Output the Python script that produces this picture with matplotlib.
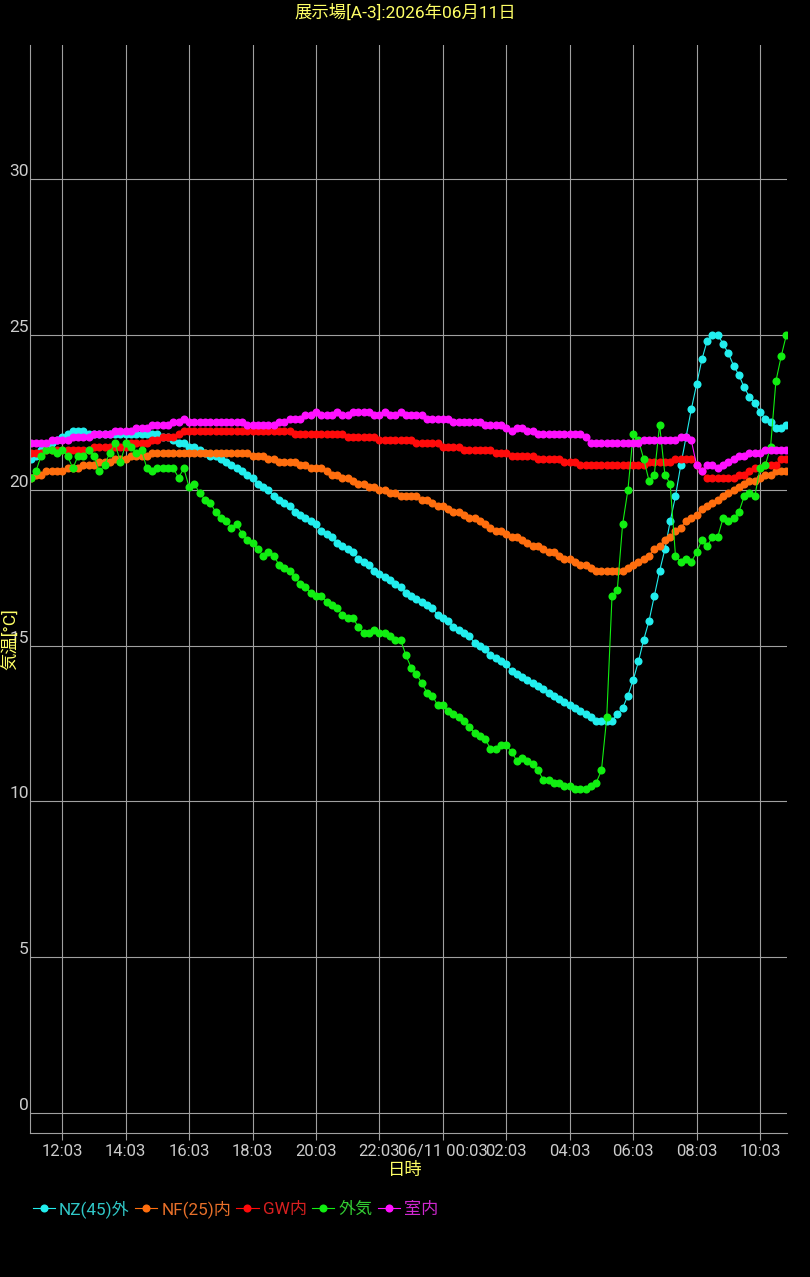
import numpy as np
import pandas as pd
import matplotlib
matplotlib.use("Agg")
import matplotlib.pyplot as plt

plt.rcParams['font.family'] = ['Roboto', 'Noto Sans CJK JP', 'DejaVu Sans']

title = "展示場[A-3]:2026年06月11日"
start = "2026-06-10 11:03"

tick_times = ["2026-06-10 12:03", "2026-06-10 14:03", "2026-06-10 16:03", "2026-06-10 18:03",
              "2026-06-10 20:03", "2026-06-10 22:03", "2026-06-11 00:03", "2026-06-11 02:03",
              "2026-06-11 04:03", "2026-06-11 06:03", "2026-06-11 08:03", "2026-06-11 10:03"]
tick_labels = ["12:03", "14:03", "16:03", "18:03", "20:03", "22:03", "06/11 00:03",
               "02:03", "04:03", "06:03", "08:03", "10:03"]
y_ticks = [0, 5, 10, 15, 20, 25, 30]

names = ["NZ(45)外", "NF(25)内", "GW内", "外気", "室内"]
colors = ["#22eeee", "#ff6e0e", "#ff0a0a", "#11ee11", "#ff11ff"]
text_colors = ["#30c8c8", "#e8702a", "#d82020", "#33cc33", "#d028d0"]

# 10分間隔
nz45 = [21.0, 21.1, 21.3, 21.4, 21.5, 21.6, 21.7, 21.8, 21.9, 21.9,
        21.9, 21.8, 21.8, 21.8, 21.8, 21.8, 21.8, 21.8, 21.8, 21.8,
        21.8, 21.8, 21.8, 21.8, 21.8, 21.7, 21.7, 21.6, 21.5, 21.5,
        21.4, 21.4, 21.3, 21.2, 21.1, 21.1, 21.0, 20.9, 20.8, 20.7,
        20.6, 20.5, 20.4, 20.2, 20.1, 20.0, 19.8, 19.7, 19.6, 19.5,
        19.3, 19.2, 19.1, 19.0, 18.9, 18.7, 18.6, 18.5, 18.3, 18.2,
        18.1, 18.0, 17.8, 17.7, 17.6, 17.4, 17.3, 17.2, 17.1, 17.0,
        16.9, 16.7, 16.6, 16.5, 16.4, 16.3, 16.2, 16.0, 15.9, 15.8,
        15.6, 15.5, 15.4, 15.3, 15.1, 15.0, 14.9, 14.7, 14.6, 14.5,
        14.4, 14.2, 14.1, 14.0, 13.9, 13.8, 13.7, 13.6, 13.5, 13.4,
        13.3, 13.2, 13.1, 13.0, 12.9, 12.8, 12.7, 12.6, 12.6, 12.6,
        12.6, 12.8, 13.0, 13.4, 13.9, 14.5, 15.2, 15.8, 16.6, 17.4,
        18.1, 19.0, 19.8, 20.8, 21.7, 22.6, 23.4, 24.2, 24.8, 25.0,
        25.0, 24.7, 24.4, 24.0, 23.7, 23.3, 23.0, 22.8, 22.5, 22.3,
        22.2, 22.0, 22.0, 22.1]

nf25 = [20.4, 20.5, 20.5, 20.6, 20.6, 20.6, 20.6, 20.7, 20.7, 20.7,
        20.8, 20.8, 20.8, 20.9, 20.9, 20.9, 21.0, 21.0, 21.0, 21.1,
        21.1, 21.1, 21.1, 21.2, 21.2, 21.2, 21.2, 21.2, 21.2, 21.2,
        21.2, 21.2, 21.2, 21.2, 21.2, 21.2, 21.2, 21.2, 21.2, 21.2,
        21.2, 21.2, 21.1, 21.1, 21.1, 21.0, 21.0, 20.9, 20.9, 20.9,
        20.9, 20.8, 20.8, 20.7, 20.7, 20.7, 20.6, 20.5, 20.5, 20.4,
        20.4, 20.3, 20.2, 20.2, 20.1, 20.1, 20.0, 20.0, 19.9, 19.9,
        19.8, 19.8, 19.8, 19.8, 19.7, 19.7, 19.6, 19.5, 19.5, 19.4,
        19.3, 19.3, 19.2, 19.1, 19.1, 19.0, 18.9, 18.8, 18.7, 18.7,
        18.6, 18.5, 18.5, 18.4, 18.3, 18.2, 18.2, 18.1, 18.0, 18.0,
        17.9, 17.8, 17.8, 17.7, 17.6, 17.6, 17.5, 17.4, 17.4, 17.4,
        17.4, 17.4, 17.4, 17.5, 17.6, 17.7, 17.8, 17.9, 18.1, 18.2,
        18.4, 18.5, 18.7, 18.8, 19.0, 19.1, 19.2, 19.4, 19.5, 19.6,
        19.7, 19.8, 19.9, 20.0, 20.1, 20.2, 20.3, 20.3, 20.4, 20.5,
        20.5, 20.6, 20.6, 20.6]

gw = [21.2, 21.2, 21.2, 21.3, 21.3, 21.3, 21.3, 21.3, 21.3, 21.3,
      21.3, 21.3, 21.4, 21.4, 21.4, 21.4, 21.4, 21.4, 21.4, 21.5,
      21.5, 21.5, 21.5, 21.6, 21.6, 21.7, 21.7, 21.7, 21.8, 21.9,
      21.9, 21.9, 21.9, 21.9, 21.9, 21.9, 21.9, 21.9, 21.9, 21.9,
      21.9, 21.9, 21.9, 21.9, 21.9, 21.9, 21.9, 21.9, 21.9, 21.9,
      21.8, 21.8, 21.8, 21.8, 21.8, 21.8, 21.8, 21.8, 21.8, 21.8,
      21.7, 21.7, 21.7, 21.7, 21.7, 21.7, 21.6, 21.6, 21.6, 21.6,
      21.6, 21.6, 21.6, 21.5, 21.5, 21.5, 21.5, 21.5, 21.4, 21.4,
      21.4, 21.4, 21.3, 21.3, 21.3, 21.3, 21.3, 21.3, 21.2, 21.2,
      21.2, 21.1, 21.1, 21.1, 21.1, 21.1, 21.0, 21.0, 21.0, 21.0,
      21.0, 20.9, 20.9, 20.9, 20.8, 20.8, 20.8, 20.8, 20.8, 20.8,
      20.8, 20.8, 20.8, 20.8, 20.8, 20.8, 20.8, 20.9, 20.9, 20.9,
      20.9, 20.9, 21.0, 21.0, 21.0, 21.0, 20.8, 20.6, 20.4, 20.4,
      20.4, 20.4, 20.4, 20.4, 20.5, 20.5, 20.6, 20.7, 20.7, 20.8,
      20.8, 20.8, 21.0, 21.0]

gaiki = [20.4, 20.6, 21.1, 21.3, 21.3, 21.2, 21.3, 21.1, 20.7, 21.1,
         21.1, 21.3, 21.1, 20.6, 20.8, 21.2, 21.5, 20.9, 21.5, 21.4,
         21.2, 21.3, 20.7, 20.6, 20.7, 20.7, 20.7, 20.7, 20.4, 20.7,
         20.1, 20.2, 19.9, 19.7, 19.6, 19.3, 19.1, 19.0, 18.8, 18.9,
         18.6, 18.4, 18.3, 18.1, 17.9, 18.0, 17.9, 17.6, 17.5, 17.4,
         17.2, 17.0, 16.9, 16.7, 16.6, 16.6, 16.4, 16.3, 16.2, 16.0,
         15.9, 15.9, 15.6, 15.4, 15.4, 15.5, 15.4, 15.4, 15.3, 15.2,
         15.2, 14.7, 14.3, 14.1, 13.8, 13.5, 13.4, 13.1, 13.1, 12.9,
         12.8, 12.7, 12.6, 12.4, 12.2, 12.1, 12.0, 11.7, 11.7, 11.8,
         11.8, 11.6, 11.3, 11.4, 11.3, 11.2, 11.0, 10.7, 10.7, 10.6,
         10.6, 10.5, 10.5, 10.4, 10.4, 10.4, 10.5, 10.6, 11.0, 12.7,
         16.6, 16.8, 18.9, 20.0, 21.8, 21.6, 21.0, 20.3, 20.5, 22.1,
         20.5, 20.2, 17.9, 17.7, 17.8, 17.7, 18.0, 18.4, 18.2, 18.5,
         18.5, 19.1, 19.0, 19.1, 19.3, 19.8, 19.9, 19.8, 20.7, 20.8,
         21.4, 23.5, 24.3, 25.0]

shitsunai = [21.5, 21.5, 21.5, 21.5, 21.6, 21.6, 21.6, 21.6, 21.7, 21.7,
             21.7, 21.7, 21.8, 21.8, 21.8, 21.8, 21.9, 21.9, 21.9, 21.9,
             22.0, 22.0, 22.0, 22.1, 22.1, 22.1, 22.1, 22.2, 22.2, 22.3,
             22.2, 22.2, 22.2, 22.2, 22.2, 22.2, 22.2, 22.2, 22.2, 22.2,
             22.2, 22.1, 22.1, 22.1, 22.1, 22.1, 22.1, 22.2, 22.2, 22.3,
             22.3, 22.3, 22.4, 22.4, 22.5, 22.4, 22.4, 22.4, 22.5, 22.4,
             22.4, 22.5, 22.5, 22.5, 22.5, 22.4, 22.4, 22.5, 22.4, 22.4,
             22.5, 22.4, 22.4, 22.4, 22.4, 22.3, 22.3, 22.3, 22.3, 22.3,
             22.2, 22.2, 22.2, 22.2, 22.2, 22.2, 22.1, 22.1, 22.1, 22.1,
             22.0, 21.9, 22.0, 22.0, 21.9, 21.9, 21.8, 21.8, 21.8, 21.8,
             21.8, 21.8, 21.8, 21.8, 21.8, 21.7, 21.5, 21.5, 21.5, 21.5,
             21.5, 21.5, 21.5, 21.5, 21.5, 21.5, 21.6, 21.6, 21.6, 21.6,
             21.6, 21.6, 21.6, 21.7, 21.7, 21.6, 20.8, 20.6, 20.8, 20.8,
             20.7, 20.8, 20.9, 21.0, 21.1, 21.1, 21.2, 21.2, 21.2, 21.3,
             21.3, 21.3, 21.3, 21.3]

series = [nz45, nf25, gw, gaiki, shitsunai]

t = pd.date_range(start, periods=len(nz45), freq="10min")

W, H = 810, 1277
fig = plt.figure(figsize=(W / 100, H / 100), dpi=100, facecolor="black")
ax = fig.add_axes([30 / W, 1 - 1133 / H, 757 / W, 1088 / H], facecolor="black")

for vals, name, c in zip(series, names, colors):
    ax.plot(t, vals, "-o", color=c, lw=0.8, ms=5.8, mew=0, label=name)

ax.set_xlim(t[0] - pd.Timedelta(minutes=1), t[-1] + pd.Timedelta(minutes=1))
ax.set_ylim(-0.65, 34.3)

ax.set_xticks(pd.to_datetime(tick_times))
ax.set_xticklabels(tick_labels)
ax.set_yticks(y_ticks)
ax.set_yticklabels([str(v) for v in y_ticks])

ax.grid(True, color="#a0a0a0", lw=0.8)
ax.set_axisbelow(True)
for s in ["top", "right"]:
    ax.spines[s].set_visible(False)
for s in ["left", "bottom"]:
    ax.spines[s].set_color("#a0a0a0")
    ax.spines[s].set_linewidth(0.8)

ax.tick_params(axis="x", colors="#a0a0a0", labelcolor="#cccccc", labelsize=12,
               length=5, width=0.8, pad=3)
ax.tick_params(axis="y", colors="#a0a0a0", labelcolor="#cccccc", labelsize=12.5,
               length=0, pad=1)
for lab in ax.get_yticklabels():
    lab.set_va("bottom")

fig.text(0.5, 1 - 12 / H, title, ha="center", va="center", color="#ffff66", fontsize=12.5)
fig.text(405 / W, 1 - 1170 / H, "日時", ha="center", va="center", color="#ffff66", fontsize=12.5)
fig.text(11 / W, 1 - 639 / H, "気温[°C]", ha="center", va="center", rotation=90,
         color="#ffff66", fontsize=12.5)

leg = fig.legend(loc="center left", bbox_to_anchor=(24 / W, 1 - 1209 / H), ncol=5,
                 frameon=False, fontsize=12.3, handlelength=1.3, handletextpad=0.25,
                 columnspacing=0.3, borderpad=0)
for txt, tc in zip(leg.get_texts(), text_colors):
    txt.set_color(tc)

fig.savefig("out.png", dpi=100, facecolor="black")
